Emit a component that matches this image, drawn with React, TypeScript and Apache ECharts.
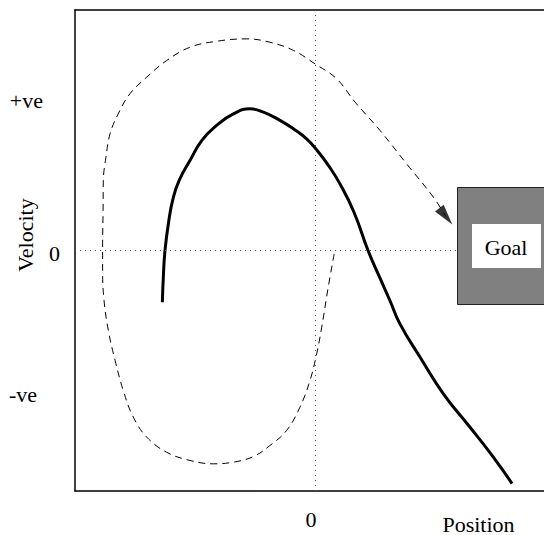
import React, { useEffect, useRef } from "react";
import * as echarts from "echarts";

// Solid trajectory (position, velocity)
const solidPosition = [-6.36, -6.32, -6.25, -6.11, -5.90, -5.63, -5.21, -4.72, -4.10, -3.40, -2.71, -2.15, -1.46, -0.90, -0.35, 0.10, 0.55, 1.04, 1.62, 2.21, 2.71, 3.13, 3.54, 4.38, 5.35, 6.46, 7.43, 8.21];
const solidVelocity = [-2.15, -1.11, 0.0, 1.11, 2.22, 2.98, 3.74, 4.57, 5.20, 5.68, 5.89, 5.75, 5.41, 5.06, 4.64, 4.15, 3.55, 2.77, 1.60, 0.0, -1.15, -2.10, -3.05, -4.44, -5.96, -7.35, -8.59, -9.69];

// Dashed trajectory (position, velocity)
const dashedPosition = [0.80, 0.55, 0.28, 0.07, -0.21, -0.63, -1.18, -1.88, -2.57, -3.40, -4.24, -5.21, -6.18, -7.01, -7.57, -7.99, -8.33, -8.61, -8.79, -8.85, -8.85, -8.83, -8.82, -8.71, -8.54, -8.20, -7.71, -7.01, -6.18, -5.21, -4.10, -2.85, -1.88, -0.90, 0.0, 0.90, 1.67, 2.71, 3.82, 4.93, 5.45];
const dashedVelocity = [-0.14, -1.53, -3.19, -4.30, -5.41, -6.52, -7.48, -8.11, -8.57, -8.80, -8.87, -8.73, -8.39, -7.76, -6.93, -5.82, -4.57, -3.33, -2.08, -0.83, 0.14, 1.66, 2.91, 3.88, 4.85, 5.68, 6.52, 7.21, 7.90, 8.45, 8.70, 8.80, 8.66, 8.32, 7.76, 7.14, 6.17, 4.99, 3.60, 2.22, 1.42];

// Arrow head at the end of the dashed trajectory
const arrowHead = [5.45, 1.42];

// Axis ticks
const yTickValues = [6.25, 0, -6.0];
const yTickLabels = ["+ve", "0", "-ve"];
const xTickValues = [0];
const xTickLabels = ["0"];

const xAxisName = "Position";
const yAxisName = "Velocity";
const goalLabel = "Goal";

const FONT = '"Liberation Serif", "Times New Roman", Times, serif';
const FS = 22;

export default function App() {
  const ref = useRef<HTMLDivElement>(null);

  useEffect(() => {
    if (!ref.current) return;
    const chart = echarts.init(ref.current, undefined, { renderer: "svg" });

    const solidData = solidPosition.map((x, i) => [x, solidVelocity[i]]);
    const dashedData = dashedPosition.map((x, i) => [x, dashedVelocity[i]]);
    const richKeys = ["a", "b", "c"];

    const option: any = {
      animation: false,
      backgroundColor: "#fff",
      grid: { left: 75, right: 0, top: 10, bottom: 44 },
      xAxis: [
        {
          type: "value",
          min: -10,
          max: 9.542,
          position: "bottom",
          axisLine: { show: true, onZero: false, lineStyle: { color: "#000", width: 1.5 } },
          axisTick: { show: false },
          splitLine: { show: false },
          axisLabel: {
            customValues: xTickValues,
            formatter: (v: number) => {
              const i = xTickValues.findIndex((t) => Math.abs(t - v) < 1e-6);
              return i >= 0 ? xTickLabels[i] : "";
            },
            margin: 17,
            padding: [0, 8, 0, 0],
            color: "#000",
            fontFamily: FONT,
            fontSize: FS,
          },
        },
        {
          type: "value",
          min: -10,
          max: 9.542,
          position: "top",
          axisLine: { show: true, onZero: false, lineStyle: { color: "#000", width: 1.5 } },
          axisTick: { show: false },
          splitLine: { show: false },
          axisLabel: { show: false },
        },
      ],
      yAxis: {
        type: "value",
        min: -10,
        max: 10,
        axisLine: { show: true, onZero: false, lineStyle: { color: "#000", width: 1.5 } },
        axisTick: { show: false },
        splitLine: { show: false },
        axisLabel: {
          customValues: yTickValues,
          formatter: (v: number) => {
            const i = yTickValues.findIndex((t) => Math.abs(t - v) < 1e-6);
            return i >= 0 ? `{${richKeys[i]}|${yTickLabels[i]}}` : "";
          },
          margin: 15,
          color: "#000",
          fontFamily: FONT,
          fontSize: FS,
          rich: {
            a: { fontFamily: FONT, fontSize: FS, color: "#000", padding: [0, 17, 0, 0] },
            b: { fontFamily: FONT, fontSize: FS, color: "#000", padding: [6, 0, 0, 0] },
            c: { fontFamily: FONT, fontSize: FS, color: "#000", padding: [0, 23, 0, 0] },
          },
        },
      },
      series: [
        {
          type: "line",
          data: dashedData,
          smooth: 0.4,
          showSymbol: false,
          symbol: "none",
          lineStyle: { color: "#000", width: 1, type: [7, 5] },
          silent: true,
          z: 3,
        },
        {
          type: "line",
          data: solidData,
          smooth: 0.5,
          showSymbol: false,
          symbol: "none",
          lineStyle: { color: "#000", width: 3 },
          silent: true,
          z: 4,
          markLine: {
            silent: true,
            symbol: "none",
            label: { show: false },
            lineStyle: { color: "#555", width: 1, type: [1, 4] },
            data: [{ xAxis: 0 }, { yAxis: 0 }],
          },
        },
        {
          type: "scatter",
          data: [arrowHead],
          symbol: "triangle",
          symbolSize: [11, 21],
          symbolRotate: -142,
          itemStyle: { color: "#000" },
          silent: true,
          z: 5,
        },
      ],
      graphic: [
        {
          type: "text",
          x: 478.5,
          y: 524,
          z: 100,
          style: { text: xAxisName, font: `${FS}px ${FONT}`, fill: "#000", align: "center", verticalAlign: "middle" },
        },
        {
          type: "text",
          x: 25.5,
          y: 235,
          rotation: Math.PI / 2,
          z: 100,
          style: { text: yAxisName, font: `${FS}px ${FONT}`, fill: "#000", align: "center", verticalAlign: "middle" },
        },
        {
          type: "rect",
          z: 100,
          shape: { x: 457.5, y: 187.5, width: 100, height: 117 },
          style: { fill: "#808080", stroke: "#222", lineWidth: 1 },
        },
        {
          type: "rect",
          z: 101,
          shape: { x: 472, y: 224, width: 69, height: 44 },
          style: { fill: "#fff" },
        },
        {
          type: "text",
          x: 506,
          y: 247,
          z: 102,
          style: { text: goalLabel, font: `${FS}px ${FONT}`, fill: "#000", align: "center", verticalAlign: "middle" },
        },
      ],
    };

    chart.setOption(option);
    return () => chart.dispose();
  }, []);

  return (
    <div
      ref={ref}
      style={{ position: "fixed", left: 0, top: 0, width: 544, height: 535 }}
    />
  );
}
